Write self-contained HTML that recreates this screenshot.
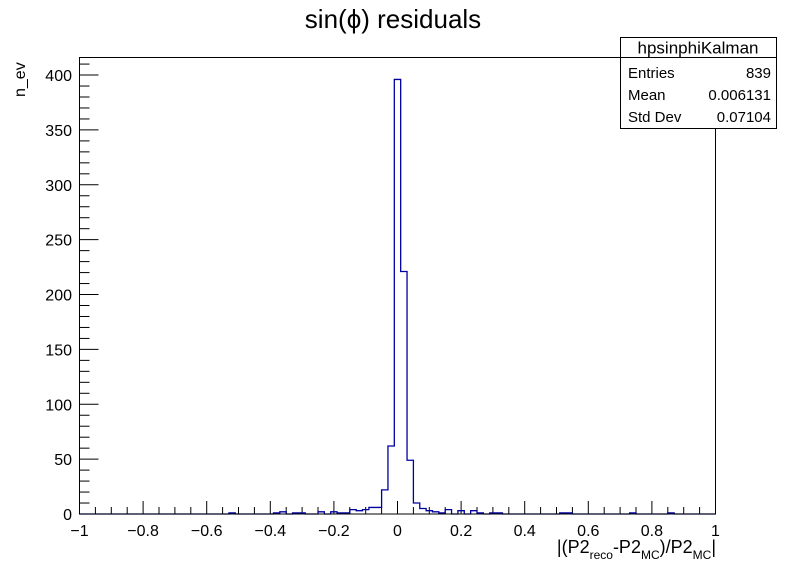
<!DOCTYPE html>
<html><head><meta charset="utf-8"><style>
html,body{margin:0;padding:0;background:#fff;}
svg{display:block;font-family:"Liberation Sans",sans-serif;}
</style></head><body>
<svg id="chart" width="796" height="572" viewBox="0 0 796 572" xmlns="http://www.w3.org/2000/svg">
<rect width="796" height="572" fill="#fff"/>
<text x="393" y="28" font-size="26" text-anchor="middle">sin(ϕ) residuals</text>
<g id="axes"></g>
<path id="hist" fill="none" stroke="#0000a0" stroke-width="1.3"/>
<rect x="79.5" y="57.5" width="636" height="456.5" fill="none" stroke="#000" stroke-width="1"/>
<text transform="translate(25,97) rotate(-90)" font-size="16" text-anchor="start">n_ev</text>
<text x="716" y="553" font-size="18" text-anchor="end">|(P2<tspan font-size="12" dy="6">reco</tspan><tspan dy="-6">-P2</tspan><tspan font-size="12" dy="6">MC</tspan><tspan dy="-6">)/P2</tspan><tspan font-size="12" dy="6">MC</tspan><tspan dy="-6">|</tspan></text>
<g>
<rect x="620.5" y="37.5" width="156" height="91" fill="#fff" stroke="#000"/>
<line x1="620.5" y1="57.5" x2="776.5" y2="57.5" stroke="#000"/>
<text x="698" y="53.5" font-size="17" text-anchor="middle">hpsinphiKalman</text>
<text x="628" y="78" font-size="15">Entries</text><text x="771" y="78" font-size="15" text-anchor="end">839</text>
<text x="628" y="100" font-size="15">Mean</text><text x="771" y="100" font-size="15" text-anchor="end">0.006131</text>
<text x="628" y="122" font-size="15">Std Dev</text><text x="771" y="122" font-size="15" text-anchor="end">0.07104</text>
</g>
</svg>
<script>
const binLow = [-0.53,-0.39,-0.37,-0.33,-0.31,-0.25,-0.21,-0.19,-0.17,-0.15,-0.13,-0.11,-0.09,-0.07,-0.05,-0.03,-0.01,0.01,0.03,0.05,0.07,0.09,0.11,0.13,0.15,0.19,0.23,0.25,0.29,0.31,0.51,0.53,0.73,0.85];
const counts = [1,1,2,1,1,2,2,1,1,4,3,4,6,6,22,62,396,221,49,10,5,3,2,1,4,3,3,1,1,1,1,1,1,1];
const xTicks = [-1,-0.8,-0.6,-0.4,-0.2,0,0.2,0.4,0.6,0.8,1];
const xTickLabels = ["−1","−0.8","−0.6","−0.4","−0.2","0","0.2","0.4","0.6","0.8","1"];
const yTicks = [0,50,100,150,200,250,300,350,400];
const yTickLabels = ["0","50","100","150","200","250","300","350","400"];
const binWidth = 0.02;

const X0=79.5, X1=715.5, Y0=514, Y1=57.5, XMIN=-1, XMAX=1, YMAX=416;
const sx = v => X0 + (v-XMIN)/(XMAX-XMIN)*(X1-X0);
const sy = v => Y0 - v/YMAX*(Y0-Y1);
const NS="http://www.w3.org/2000/svg";
const axes=document.getElementById('axes');
function mk(tag,attrs){const e=document.createElementNS(NS,tag);for(const k in attrs)e.setAttribute(k,attrs[k]);axes.appendChild(e);return e;}
for(let v=-1;v<=1.0001;v+=0.05){
  const major=Math.abs(Math.round(v*100)%20)===0;
  const t=mk('line',{x1:sx(v),x2:sx(v),y1:Y0,y2:Y0-(major?13:7),stroke:'#000'});
  
  
}
xTicks.forEach((v,i)=>{
  const t=mk('text',{x:sx(v),y:536,'font-size':16,'text-anchor':'middle'});
  t.textContent=xTickLabels[i];
  
  
});
for(let v=0;v<=YMAX;v+=10){
  const major=v%50===0;
  const t=mk('line',{x1:X0,x2:X0+(major?19:10),y1:sy(v),y2:sy(v),stroke:'#000'});
  
  
}
yTicks.forEach((v,i)=>{
  const t=mk('text',{x:72,y:sy(v)+6,'font-size':16,'text-anchor':'end'});
  t.textContent=yTickLabels[i];
  
  
});
const nb=101, start=-1.01;
const full=new Array(nb).fill(0);
binLow.forEach((b,i)=>{const k=Math.round((b-start)/binWidth);if(k>=0&&k<nb)full[k]+=counts[i];});
const clip=v=>Math.max(XMIN,Math.min(XMAX,v));
let d='M'+sx(XMIN)+','+sy(full[0]);
for(let k=0;k<nb;k++){
  const a=clip(start+k*binWidth), b=clip(start+(k+1)*binWidth);
  d+=' L'+sx(a)+','+sy(full[k])+' L'+sx(b)+','+sy(full[k]);
}
document.getElementById('hist').setAttribute('d',d);
</script>
</body></html>
